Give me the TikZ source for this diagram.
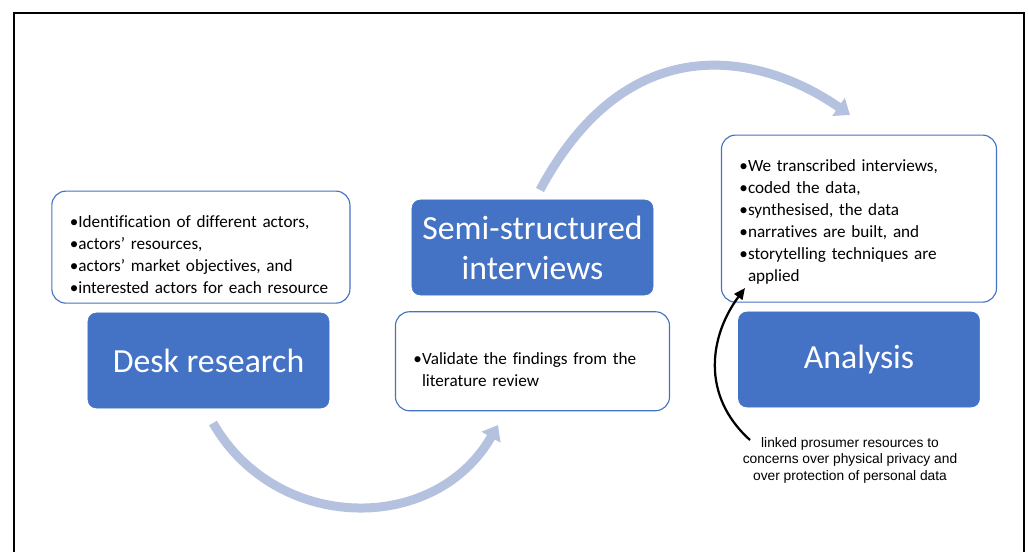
\documentclass[tikz,border=0pt]{standalone}
\usepackage{fontspec}
\setmainfont{Carlito}[Ligatures=NoCommon]
\newfontfamily\arialfont{Liberation Sans}
\usetikzlibrary{arrows.meta, positioning}

\definecolor{stageblue}{HTML}{4472C4}
\definecolor{arcblue}{HTML}{B4C1DF}
\hyphenpenalty=10000

\begin{document}
\begin{tikzpicture}[
    x=0.025cm, y=-0.025cm,
    stagebox/.style={rectangle, rounded corners=6pt, fill=stageblue, draw=stageblue, text=white, minimum width=6.025cm, minimum height=2.375cm, align=center, font=\fontsize{24}{28.5}\selectfont},
    notebox/.style={rectangle, rounded corners=10pt, draw=stageblue, line width=0.8pt, fill=white, inner xsep=0.45cm, align=left, font=\fontsize{12.2}{15.6}\selectfont},
    remark/.style={align=center, font=\arialfont\fontsize{9.8}{11.7}\selectfont},
    flowarrow/.style={-{Triangle[length=10pt, width=15pt]}, line width=6.4pt, draw=arcblue},
    linkarrow/.style={-{Triangle[length=8pt, width=7pt]}, line width=1.6pt},
    frame/.style={draw=black, line width=1.4pt},
  ]
  \useasboundingbox (0,0) rectangle (1028,552);

  % outer frame
  \draw[frame] (14,560) |- (1024,13) -- (1024,560);

  % stages
  \node[stagebox] (desk) at (208.5,360.5) {Desk research};
  \node[stagebox] (semi) at (532.5,247.5) {Semi-structured\\interviews};
  \node[stagebox] (analysis) at (859,359.5) {Analysis};

  % notes for each stage
  \node[notebox, text width=6.55cm, minimum height=2.8cm, above=6.4pt of desk, xshift=-0.19cm] (desknote)
    {\rule{0pt}{19pt}\textbullet Identification of different actors,\\
     \textbullet actors’ resources,\\
     \textbullet actors’ market objectives, and\\
     \textbullet interested actors for each resource};
  \node[notebox, text width=5.95cm, minimum height=2.475cm, below=11.3pt of semi] (seminote)
    {\rule{0pt}{20pt}\textbullet Validate the findings from the\\
     \phantom{\textbullet}literature review};
  \node[notebox, text width=5.975cm, minimum height=4.175cm, above=6.4pt of analysis] (analysisnote)
    {\rule{0pt}{13pt}\textbullet We transcribed interviews,\\
     \textbullet coded the data,\\
     \textbullet synthesised, the data\\
     \textbullet narratives are built, and\\
     \textbullet storytelling techniques are\\
     \phantom{\textbullet}applied};

  \node[remark] (linknote) at (850,460)
    {linked prosumer resources to\\
     concerns over physical privacy and\\
     over protection of personal data};

  % arc ends
  \coordinate (lowstart) at (213,423);
  \coordinate (lowend) at (498,425);
  \coordinate (highstart) at (540,190);
  \coordinate (highend) at (850,115);
  \coordinate (linkstart) at (750,440);
  \coordinate (linkend) at (745,288);

  % arrows
  \draw[flowarrow] (lowstart) .. controls (276,533) and (435,535) .. (lowend);
  \draw[flowarrow] (highstart) .. controls (631,20) and (767,57) .. (highend);
  \draw[linkarrow] (linkstart) .. controls (700,395) and (710,335) .. (linkend);

\end{tikzpicture}
\end{document}
